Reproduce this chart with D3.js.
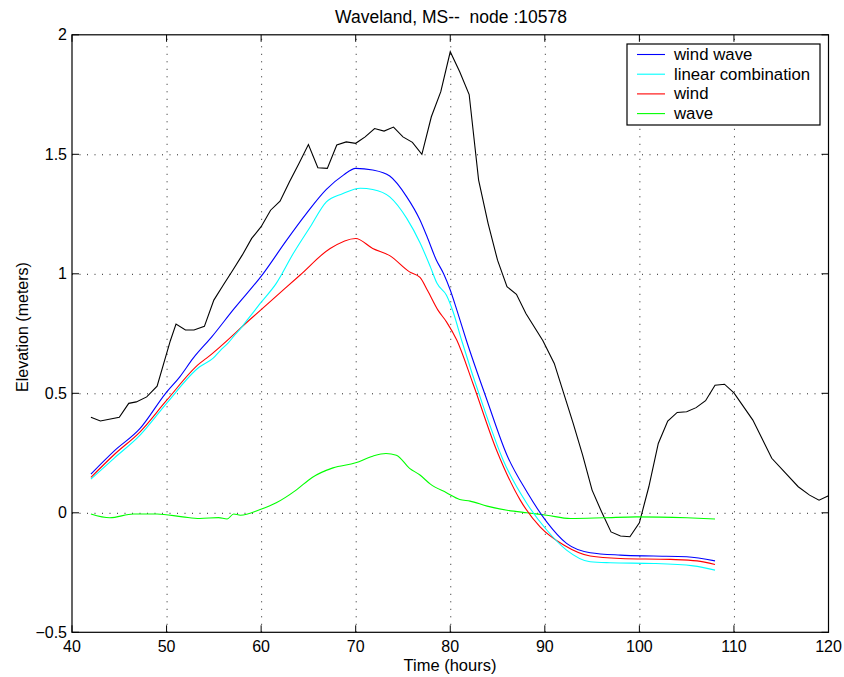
<!DOCTYPE html>
<html>
<head>
<meta charset="utf-8">
<script src="https://cdn.jsdelivr.net/npm/d3@7"></script>
<style>
  body { margin: 0; background: #fff; }
  svg { font-family: "Liberation Sans", Arial, Helvetica, sans-serif; }
  .grid line { stroke: #222; stroke-dasharray: 1 6.5; stroke-width: 1; }
  .grid path { display: none; }
</style>
</head>
<body>
<div id="chart"></div>
<script>
// observed elevation (black)
const obsTime = [42, 43, 45, 46, 46.8, 47.9, 49, 50.4, 51, 52, 52.9, 54, 55, 56, 57, 58, 59, 60, 61, 62, 63, 64, 65, 66, 67, 68, 69, 70, 71, 72, 73, 74, 75, 76, 77, 78, 79, 80, 81, 82, 83, 84, 85, 86, 87, 88, 89.8, 91, 92, 93, 94, 95, 96, 97, 98, 99, 100, 101, 102, 103, 104, 105, 106, 107, 108, 109, 110, 112, 114, 116.8, 118, 119, 120];
const obsValue = [0.40, 0.384, 0.40, 0.458, 0.464, 0.485, 0.53, 0.72, 0.79, 0.765, 0.765, 0.78, 0.89, 0.953, 1.015, 1.078, 1.148, 1.197, 1.266, 1.304, 1.385, 1.462, 1.541, 1.444, 1.441, 1.539, 1.552, 1.546, 1.573, 1.608, 1.597, 1.614, 1.573, 1.55, 1.50, 1.657, 1.762, 1.929, 1.845, 1.75, 1.392, 1.211, 1.057, 0.946, 0.914, 0.834, 0.72, 0.625, 0.50, 0.374, 0.241, 0.095, 0.004, -0.08, -0.097, -0.10, -0.042, 0.109, 0.29, 0.384, 0.42, 0.423, 0.44, 0.469, 0.534, 0.538, 0.502, 0.388, 0.228, 0.109, 0.074, 0.053, 0.071];

// model runs
const windWaveTime = [42, 44.5, 47.2, 49.9, 51.4, 52.8, 54.8, 57.1, 60.2, 62.7, 64.8, 66.9, 68.7, 70, 71.8, 73.6, 75.4, 76.8, 77.6, 78.5, 79.3, 80, 80.7, 81.7, 83.9, 86, 88.1, 90.2, 92.3, 94.8, 98, 101.5, 105, 108];
const windWaveValue = [0.162, 0.26, 0.353, 0.50, 0.569, 0.646, 0.737, 0.852, 1.0, 1.141, 1.253, 1.353, 1.413, 1.441, 1.434, 1.409, 1.322, 1.225, 1.15, 1.06, 1.0, 0.932, 0.848, 0.722, 0.47, 0.241, 0.088, -0.038, -0.128, -0.167, -0.177, -0.181, -0.184, -0.201];

const linCombTime = [42, 44.5, 47.2, 50, 53.5, 54.9, 55.7, 56.5, 57.2, 57.9, 58.6, 59.9, 61.6, 63.4, 65.2, 66.9, 68.6, 70.5, 71.8, 73.6, 75.4, 76.8, 77.9, 78.6, 79.6, 80.3, 81.2, 83.5, 85.6, 88.1, 90.2, 92.3, 94.8, 96.9, 101.5, 105.7, 108];
const linCombValue = [0.141, 0.23, 0.325, 0.458, 0.611, 0.646, 0.68, 0.71, 0.743, 0.775, 0.81, 0.876, 0.96, 1.085, 1.197, 1.301, 1.335, 1.358, 1.353, 1.322, 1.232, 1.13, 1.029, 0.96, 0.91, 0.841, 0.722, 0.444, 0.22, 0.039, -0.072, -0.156, -0.205, -0.209, -0.212, -0.222, -0.24];

const windTime = [42, 44.5, 47.2, 50, 53.5, 54.2, 59, 60.6, 64.1, 67.3, 70, 71.8, 73.6, 75.7, 76.8, 77.6, 78.7, 79.6, 80.7, 82.4, 84.9, 87.4, 89.5, 92, 94.8, 98, 103.3, 106.1, 108];
const windValue = [0.148, 0.245, 0.339, 0.47, 0.625, 0.646, 0.815, 0.871, 0.994, 1.106, 1.148, 1.106, 1.076, 1.008, 0.985, 0.93, 0.848, 0.799, 0.722, 0.541, 0.262, 0.053, -0.059, -0.135, -0.181, -0.191, -0.195, -0.201, -0.216];

const waveTime = [42, 44, 46.5, 49, 51.7, 53.5, 55.5, 56.4, 57.1, 57.8, 59.9, 61.6, 63.7, 65.4, 67.6, 70, 71.8, 73.2, 74.3, 75.7, 76.8, 77.9, 79.6, 81, 82.1, 83.9, 86, 88.1, 90.2, 92.7, 96.2, 99.7, 105, 108];
const waveValue = [-0.005, -0.021, -0.005, -0.005, -0.017, -0.024, -0.02, -0.026, -0.005, -0.01, 0.014, 0.042, 0.095, 0.148, 0.188, 0.209, 0.237, 0.248, 0.241, 0.186, 0.158, 0.12, 0.084, 0.056, 0.049, 0.028, 0.011, 0.0, -0.01, -0.024, -0.021, -0.017, -0.021, -0.026];

const seriesNames = ["wind wave", "linear combination", "wind", "wave"];
const seriesColors = ["#0000ff", "#00ffff", "#ff0000", "#00ff00"];

const xTicks = [40, 50, 60, 70, 80, 90, 100, 110, 120];
const yTicks = [-0.5, 0, 0.5, 1, 1.5, 2];

const width = 844, height = 677;
const plot = { left: 72, right: 828.5, top: 34.8, bottom: 632.3 };

const svg = d3.select("#chart").append("svg")
    .attr("width", width)
    .attr("height", height);

const x = d3.scaleLinear().domain([40, 120]).range([plot.left, plot.right]);
const y = d3.scaleLinear().domain([-0.5, 2]).range([plot.bottom, plot.top]);

// dotted grid
svg.append("g")
    .attr("class", "grid")
    .attr("transform", `translate(0,${plot.bottom})`)
    .call(d3.axisBottom(x).tickValues(xTicks.slice(1, -1)).tickSize(-(plot.bottom - plot.top)).tickFormat(""));
svg.append("g")
    .attr("class", "grid")
    .attr("transform", `translate(${plot.left},0)`)
    .call(d3.axisLeft(y).tickValues(yTicks.slice(1, -1)).tickSize(-(plot.right - plot.left)).tickFormat(""));

// inward ticks on all four sides
const tickLen = 7;
const tickG = svg.append("g").attr("stroke", "#000").attr("stroke-width", 1);
xTicks.forEach(t => {
    tickG.append("line").attr("x1", x(t)).attr("x2", x(t)).attr("y1", plot.bottom).attr("y2", plot.bottom - tickLen);
    tickG.append("line").attr("x1", x(t)).attr("x2", x(t)).attr("y1", plot.top).attr("y2", plot.top + tickLen);
});
yTicks.forEach(t => {
    tickG.append("line").attr("x1", plot.left).attr("x2", plot.left + tickLen).attr("y1", y(t)).attr("y2", y(t));
    tickG.append("line").attr("x1", plot.right).attr("x2", plot.right - tickLen).attr("y1", y(t)).attr("y2", y(t));
});

// tick labels
svg.append("g").selectAll("text")
    .data(xTicks)
    .join("text")
    .attr("x", d => x(d))
    .attr("y", plot.bottom + 20)
    .attr("text-anchor", "middle")
    .attr("font-size", 16)
    .text(d => d);

svg.append("g").selectAll("text")
    .data(yTicks)
    .join("text")
    .attr("x", plot.left - 5)
    .attr("y", d => y(d) + 5.5)
    .attr("text-anchor", "end")
    .attr("font-size", 16)
    .text(d => d < 0 ? "\u2212" + Math.abs(d) : d);

// lines
const lineGen = d3.line().x(d => x(d[0])).y(d => y(d[1]));
const smoothGen = d3.line().x(d => x(d[0])).y(d => y(d[1])).curve(d3.curveMonotoneX);

const plotG = svg.append("g");
const drawSeries = (times, values, color, gen) => {
    plotG.append("path")
        .datum(d3.zip(times, values))
        .attr("fill", "none")
        .attr("stroke", color)
        .attr("stroke-width", 1.1)
        .attr("d", gen);
};
drawSeries(obsTime, obsValue, "#000", lineGen);
drawSeries(waveTime, waveValue, seriesColors[3], smoothGen);
drawSeries(windTime, windValue, seriesColors[2], smoothGen);
drawSeries(linCombTime, linCombValue, seriesColors[1], smoothGen);
drawSeries(windWaveTime, windWaveValue, seriesColors[0], smoothGen);

// frame
svg.append("rect")
    .attr("x", plot.left).attr("y", plot.top)
    .attr("width", plot.right - plot.left).attr("height", plot.bottom - plot.top)
    .attr("fill", "none").attr("stroke", "#000").attr("stroke-width", 1.2);

// legend
const legend = svg.append("g").attr("transform", "translate(627,44)");
legend.append("rect")
    .attr("width", 193).attr("height", 81)
    .attr("fill", "#fff").attr("stroke", "#000").attr("stroke-width", 1.2);
seriesNames.forEach((name, i) => {
    const ly = 10.5 + i * 19.7;
    legend.append("line")
        .attr("x1", 10).attr("x2", 38).attr("y1", ly).attr("y2", ly)
        .attr("stroke", seriesColors[i]).attr("stroke-width", 1.1);
    legend.append("text")
        .attr("x", 47).attr("y", ly + 5.5)
        .attr("font-size", 16.8)
        .text(name);
});

// titles
svg.append("text")
    .attr("x", 451).attr("y", 22.7)
    .attr("text-anchor", "middle").attr("font-size", 17.5)
    .attr("xml:space", "preserve")
    .text("Waveland, MS--  node :10578");

svg.append("text")
    .attr("x", 450).attr("y", 671)
    .attr("text-anchor", "middle").attr("font-size", 16.5)
    .text("Time (hours)");

svg.append("text")
    .attr("transform", "translate(27.5,327) rotate(-90)")
    .attr("text-anchor", "middle").attr("font-size", 16)
    .text("Elevation (meters)");
</script>
</body>
</html>
